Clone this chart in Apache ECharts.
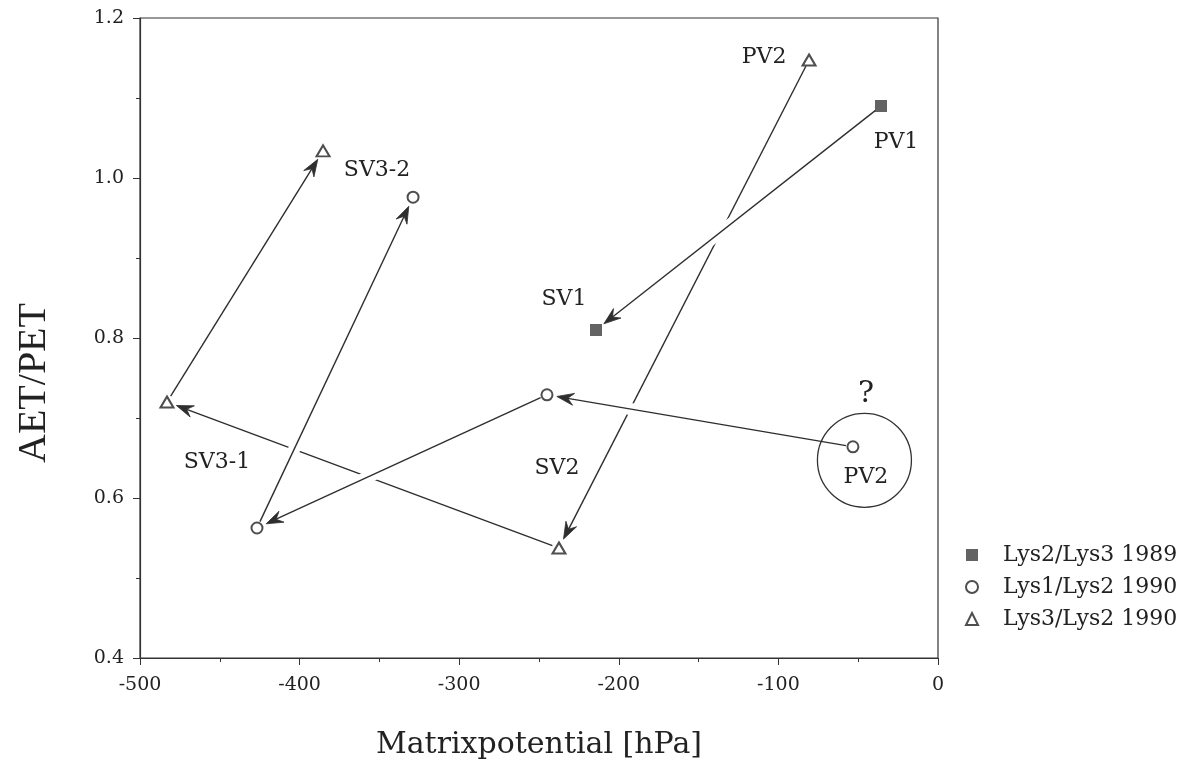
<!DOCTYPE html>
<html>
<head>
<meta charset="utf-8">
<script src="https://cdn.jsdelivr.net/npm/echarts@6/dist/echarts.min.js"></script>
<style>
html, body { margin:0; padding:0; background:#fff; }
#chart { width:1189px; height:765px; }
</style>
</head>
<body>
<div id="chart"></div>
<script>
// Lys2/Lys3 1989 (filled squares): PV1 -> SV1
const sqX = [-35.7, -214.3];
const sqY = [1.09, 0.81];
// Lys1/Lys2 1990 (open circles): PV2 -> ... -> SV3-2
const ciX = [-53.3, -245.0, -426.7, -328.9];
const ciY = [0.664, 0.729, 0.5625, 0.976];
// Lys3/Lys2 1990 (open triangles): PV2 -> SV2 -> SV3-1 -> SV3-2
const trX = [-80.8, -237.5, -483.1, -385.3];
const trY = [1.1475, 0.5375, 0.72, 1.034];

const seriesNames = ['Lys2/Lys3 1989', 'Lys1/Lys2 1990', 'Lys3/Lys2 1990'];
const xTicks = [-500, -400, -300, -200, -100, 0];
const yTicks = [0.4, 0.6, 0.8, 1.0, 1.2];

// point labels: text, anchor point (which set, index)
const labelText = ['PV1', 'SV1', 'PV2', 'SV2', 'SV3-1', 'SV3-2', 'PV2', '?'];
const labelSet  = ['sq',  'sq',  'tr',  'tr',  'tr',    'tr',    'ci',  'ci'];
const labelIdx  = [0,     1,     0,     1,     2,       3,       0,     0];
// pixel offsets of each label from its point
const labelOff = [[15,36], [-32,-31], [-45,-3], [-2,-80], [50,60], [54,19], [13,30], [13,-53]];

const txt = '#222';
const ink = '#2e2e2e';
const serif = 'DejaVu Serif';

function pts(set) {
  if (set === 'sq') return [sqX, sqY];
  if (set === 'ci') return [ciX, ciY];
  return [trX, trY];
}

function chain(xs, ys, halo) {
  const segs = [];
  for (let i = 0; i < xs.length - 1; i++) {
    segs.push([xs[i], ys[i], xs[i + 1], ys[i + 1], halo]);
  }
  return segs;
}

// triangle lines first (the others cut gaps into them)
const segments = chain(trX, trY, 0).concat(chain(sqX, sqY, 1), chain(ciX, ciY, 1));

function renderArrow(params, api) {
  const a = api.coord([api.value(0), api.value(1)]);
  const b = api.coord([api.value(2), api.value(3)]);
  const halo = api.value(4);
  const dx = b[0] - a[0], dy = b[1] - a[1];
  const len = Math.sqrt(dx * dx + dy * dy);
  const ux = dx / len, uy = dy / len;
  const nx = -uy, ny = ux;
  const s = [a[0] + ux * 7, a[1] + uy * 7];
  const e = [b[0] - ux * 10, b[1] - uy * 10];
  const notch = [e[0] - ux * 11, e[1] - uy * 11];
  const children = [];
  if (halo) {
    children.push({
      type: 'line',
      shape: { x1: s[0], y1: s[1], x2: e[0], y2: e[1] },
      style: { stroke: '#fff', lineWidth: 12 }
    });
  }
  children.push({
    type: 'line',
    shape: { x1: s[0], y1: s[1], x2: notch[0], y2: notch[1] },
    style: { stroke: ink, lineWidth: 1.4 }
  });
  children.push({
    type: 'polygon',
    shape: { points: [
      e,
      [e[0] - ux * 17 + nx * 6, e[1] - uy * 17 + ny * 6],
      notch,
      [e[0] - ux * 17 - nx * 6, e[1] - uy * 17 - ny * 6]
    ] },
    style: { fill: ink, stroke: ink, lineWidth: 0.8 }
  });
  return { type: 'group', children: children };
}

const labelData = labelText.map((t, i) => {
  const p = pts(labelSet[i]);
  return [p[0][labelIdx[i]], p[1][labelIdx[i]]];
});

function renderLabel(params, api) {
  const c = api.coord([api.value(0), api.value(1)]);
  const i = params.dataIndex;
  const o = labelOff[i];
  const big = labelText[i] === '?';
  return {
    type: 'text',
    style: {
      text: labelText[i],
      x: c[0] + o[0], y: c[1] + o[1],
      align: 'center', verticalAlign: 'middle',
      font: (big ? '30px ' : '22px ') + serif,
      fill: txt
    }
  };
}

// ring around the questionable PV2 point
function renderRing(params, api) {
  const c = api.coord([api.value(0), api.value(1)]);
  return {
    type: 'circle',
    shape: { cx: c[0] + 11.5, cy: c[1] + 13.5, r: 47 },
    style: { fill: 'none', stroke: '#333', lineWidth: 1.3 }
  };
}

const chart = echarts.init(document.getElementById('chart'));
chart.setOption({
  animation: false,
  backgroundColor: '#fff',
  grid: { left: 140, right: 251, top: 18, bottom: 107, show: true, borderColor: '#333', borderWidth: 1.2 },
  legend: {
    orient: 'vertical', left: 960, top: 538,
    itemWidth: 12, itemHeight: 12, itemGap: 8,
    data: seriesNames,
    textStyle: { fontFamily: serif, fontSize: 22, color: txt, lineHeight: 24, padding: [0, 0, 0, 20] }
  },
  graphic: [{
    type: 'text', x: 34, y: 383, rotation: Math.PI / 2,
    style: { text: 'AET/PET', font: '40px "Liberation Serif"', fill: txt, align: 'center', verticalAlign: 'middle' }
  }],
  xAxis: {
    type: 'value', min: xTicks[0], max: xTicks[xTicks.length - 1], interval: 100,
    name: 'Matrixpotential [hPa]', nameLocation: 'middle', nameGap: 72,
    nameTextStyle: { fontFamily: serif, fontSize: 30, color: txt },
    axisLine: { onZero: false, lineStyle: { color: '#333', width: 1.2 } },
    axisTick: { length: 7, lineStyle: { color: '#333' } },
    minorTick: { show: true, splitNumber: 2, length: 4, lineStyle: { color: '#333' } },
    splitLine: { show: false },
    axisLabel: { fontFamily: serif, fontSize: 19, color: txt, margin: 18 }
  },
  yAxis: {
    type: 'value', min: yTicks[0], max: yTicks[yTicks.length - 1], interval: 0.2,
    axisLine: { onZero: false, lineStyle: { color: '#333', width: 1.2 } },
    axisTick: { length: 7, lineStyle: { color: '#333' } },
    minorTick: { show: true, splitNumber: 2, length: 4, lineStyle: { color: '#333' } },
    splitLine: { show: false },
    axisLabel: { fontFamily: serif, fontSize: 19, color: txt, margin: 16, formatter: v => v.toFixed(1) }
  },
  series: [
    {
      type: 'custom', name: 'arrows', z: 2, silent: true,
      renderItem: renderArrow,
      encode: { x: [0, 2], y: [1, 3] },
      data: segments
    },
    {
      type: 'custom', name: 'ring', z: 2, silent: true,
      renderItem: renderRing,
      data: [[ciX[0], ciY[0]]]
    },
    {
      type: 'custom', name: 'labels', z: 4, silent: true,
      renderItem: renderLabel,
      data: labelData
    },
    {
      type: 'scatter', name: seriesNames[0], z: 3,
      symbol: 'rect', symbolSize: 12,
      itemStyle: { color: '#3c3c3c' },
      data: sqX.map((x, i) => [x, sqY[i]])
    },
    {
      type: 'scatter', name: seriesNames[1], z: 3,
      symbol: 'emptyCircle', symbolSize: 11,
      itemStyle: { color: '#222', borderColor: '#222', borderWidth: 2 },
      data: ciX.map((x, i) => [x, ciY[i]])
    },
    {
      type: 'scatter', name: seriesNames[2], z: 3,
      symbol: 'emptyTriangle', symbolSize: [13, 11],
      itemStyle: { color: '#222', borderColor: '#222', borderWidth: 2 },
      data: trX.map((x, i) => [x, trY[i]])
    }
  ]
});
</script>
</body>
</html>
